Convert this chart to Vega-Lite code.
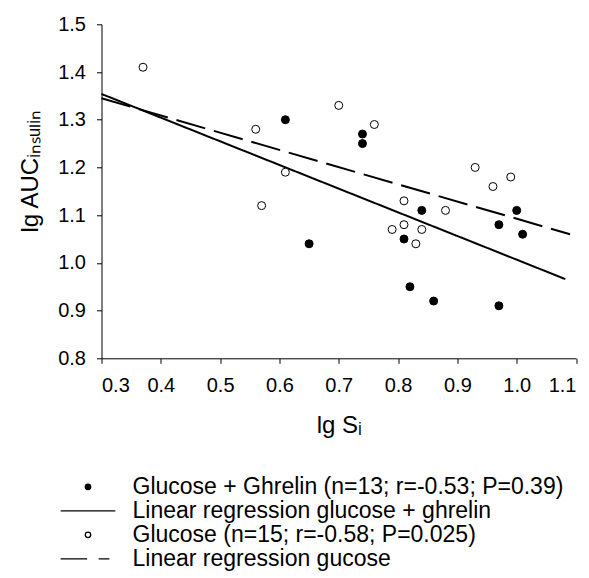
{
  "$schema": "https://vega.github.io/schema/vega-lite/v6.json",
  "width": 474.5,
  "height": 334,
  "autosize": {"type": "none"},
  "padding": {"left": 101.5, "top": 24.3, "right": 13, "bottom": 219.7},
  "background": "white",
  "config": {
    "view": {"stroke": null},
    "font": "Liberation Sans",
    "axis": {
      "domainColor": "black",
      "domainWidth": 1,
      "tickColor": "black",
      "tickSize": 5,
      "labelColor": "black",
      "labelFont": "Liberation Sans",
      "labelFontSize": 20,
      "titleFont": "Liberation Sans",
      "titleFontSize": 24,
      "titleFontWeight": "normal",
      "titleColor": "black",
      "grid": false
    },
    "legend": {
      "labelFont": "Liberation Sans",
      "labelFontSize": 23,
      "labelColor": "black",
      "labelLimit": 0,
      "symbolSize": 30,
      "symbolStrokeColor": "black",
      "symbolStrokeWidth": 1.3,
      "labelOffset": 33,
      "rowPadding": 0,
      "padding": 0
    }
  },
  "layer": [
    {
      "data": {
        "values": [
          {"line": "solid", "x": 0.3, "y": 1.354},
          {"line": "solid", "x": 1.082, "y": 0.966},
          {"line": "dashed", "x": 0.3, "y": 1.345},
          {"line": "dashed", "x": 1.09, "y": 1.06}
        ]
      },
      "mark": {"type": "line", "color": "black", "strokeWidth": 2},
      "encoding": {
        "x": {
          "field": "x", "type": "quantitative",
          "scale": {"domain": [0.3, 1.1], "nice": false, "zero": false},
          "axis": {"values": [0.3, 0.4, 0.5, 0.6, 0.7, 0.8, 0.9, 1.0, 1.1], "format": ".1f", "labelPadding": 12, "title": "lg Sᵢ", "titleY": 73.7, "titleBaseline": "alphabetic"}
        },
        "y": {
          "field": "y", "type": "quantitative",
          "scale": {"domain": [0.8, 1.5], "nice": false, "zero": false},
          "axis": {"values": [0.8, 0.9, 1.0, 1.1, 1.2, 1.3, 1.4, 1.5], "format": ".1f", "labelPadding": 11, "title": "lg AUCᵢₙₛᵤₗᵢₙ", "titleAngle": 270, "titleX": -64.5, "titleY": 207.7, "titleAlign": "left", "titleBaseline": "alphabetic"}
        },
        "detail": {"field": "line", "type": "nominal"},
        "strokeDash": {
          "field": "line", "type": "nominal",
          "scale": {"domain": ["solid", "dashed"], "range": [[1, 0], [30, 9]]},
          "legend": null
        }
      }
    },
    {
      "data": {
        "values": [
          {"series": "Glucose + Ghrelin (n=13; r=-0.53; P=0.39)", "x": 0.61, "y": 1.30},
          {"series": "Glucose + Ghrelin (n=13; r=-0.53; P=0.39)", "x": 0.74, "y": 1.27},
          {"series": "Glucose + Ghrelin (n=13; r=-0.53; P=0.39)", "x": 0.74, "y": 1.25},
          {"series": "Glucose + Ghrelin (n=13; r=-0.53; P=0.39)", "x": 0.84, "y": 1.11},
          {"series": "Glucose + Ghrelin (n=13; r=-0.53; P=0.39)", "x": 1.00, "y": 1.11},
          {"series": "Glucose + Ghrelin (n=13; r=-0.53; P=0.39)", "x": 0.97, "y": 1.08},
          {"series": "Glucose + Ghrelin (n=13; r=-0.53; P=0.39)", "x": 0.81, "y": 1.05},
          {"series": "Glucose + Ghrelin (n=13; r=-0.53; P=0.39)", "x": 1.01, "y": 1.06},
          {"series": "Glucose + Ghrelin (n=13; r=-0.53; P=0.39)", "x": 0.65, "y": 1.04},
          {"series": "Glucose + Ghrelin (n=13; r=-0.53; P=0.39)", "x": 0.82, "y": 0.95},
          {"series": "Glucose + Ghrelin (n=13; r=-0.53; P=0.39)", "x": 0.86, "y": 0.92},
          {"series": "Glucose + Ghrelin (n=13; r=-0.53; P=0.39)", "x": 0.97, "y": 0.91},
          {"series": "Glucose (n=15; r=-0.58; P=0.025)", "x": 0.37, "y": 1.41},
          {"series": "Glucose (n=15; r=-0.58; P=0.025)", "x": 0.56, "y": 1.28},
          {"series": "Glucose (n=15; r=-0.58; P=0.025)", "x": 0.70, "y": 1.33},
          {"series": "Glucose (n=15; r=-0.58; P=0.025)", "x": 0.61, "y": 1.19},
          {"series": "Glucose (n=15; r=-0.58; P=0.025)", "x": 0.57, "y": 1.12},
          {"series": "Glucose (n=15; r=-0.58; P=0.025)", "x": 0.76, "y": 1.29},
          {"series": "Glucose (n=15; r=-0.58; P=0.025)", "x": 0.93, "y": 1.20},
          {"series": "Glucose (n=15; r=-0.58; P=0.025)", "x": 0.99, "y": 1.18},
          {"series": "Glucose (n=15; r=-0.58; P=0.025)", "x": 0.96, "y": 1.16},
          {"series": "Glucose (n=15; r=-0.58; P=0.025)", "x": 0.81, "y": 1.13},
          {"series": "Glucose (n=15; r=-0.58; P=0.025)", "x": 0.88, "y": 1.11},
          {"series": "Glucose (n=15; r=-0.58; P=0.025)", "x": 0.81, "y": 1.08},
          {"series": "Glucose (n=15; r=-0.58; P=0.025)", "x": 0.79, "y": 1.07},
          {"series": "Glucose (n=15; r=-0.58; P=0.025)", "x": 0.84, "y": 1.07},
          {"series": "Glucose (n=15; r=-0.58; P=0.025)", "x": 0.83, "y": 1.04}
        ]
      },
      "mark": {"type": "point", "filled": true, "size": 64, "strokeWidth": 1, "opacity": 1},
      "encoding": {
        "x": {"field": "x", "type": "quantitative"},
        "y": {"field": "y", "type": "quantitative"},
        "shape": {
          "field": "series", "type": "nominal",
          "scale": {
            "domain": ["Glucose + Ghrelin (n=13; r=-0.53; P=0.39)", "Linear regression glucose + ghrelin", "Glucose (n=15; r=-0.58; P=0.025)", "Linear regression gucose"],
            "range": ["circle", "M-10,0H10", "circle", "M-10,0H-0.3M3.9,0H7.8"]
          },
          "legend": {"title": null, "orient": "none", "legendX": -25, "legendY": 451}
        },
        "fill": {
          "field": "series", "type": "nominal",
          "scale": {
            "domain": ["Glucose + Ghrelin (n=13; r=-0.53; P=0.39)", "Linear regression glucose + ghrelin", "Glucose (n=15; r=-0.58; P=0.025)", "Linear regression gucose"],
            "range": ["black", "transparent", "white", "transparent"]
          },
          "legend": {"title": null, "orient": "none", "legendX": -25, "legendY": 451}
        },
        "stroke": {
          "field": "series", "type": "nominal",
          "scale": {
            "domain": ["Glucose + Ghrelin (n=13; r=-0.53; P=0.39)", "Linear regression glucose + ghrelin", "Glucose (n=15; r=-0.58; P=0.025)", "Linear regression gucose"],
            "range": ["black", "black", "black", "black"]
          },
          "legend": {"title": null, "orient": "none", "legendX": -25, "legendY": 451}
        }
      }
    }
  ]
}
